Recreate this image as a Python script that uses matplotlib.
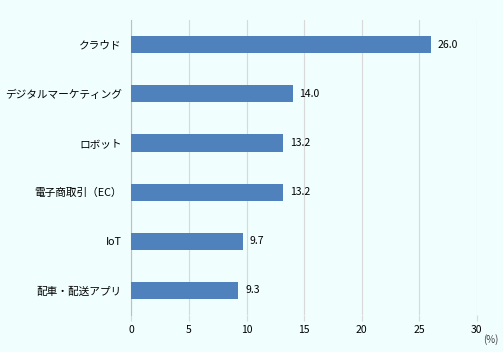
import matplotlib
matplotlib.use("Agg")
import matplotlib.pyplot as plt

plt.rcParams['font.family'] = ['Noto Sans CJK JP', 'DejaVu Sans']

categories = ["クラウド", "デジタルマーケティング", "ロボット", "電子商取引（EC）", "IoT", "配車・配送アプリ"]
values = [26.0, 14.0, 13.2, 13.2, 9.7, 9.3]
xticks = [0, 5, 10, 15, 20, 25, 30]

bg = '#F0FEFE'
fig = plt.figure(figsize=(5.03, 3.52), dpi=100, facecolor=bg)
ax = fig.add_axes([0.2614, 0.105, 0.686, 0.838], facecolor=bg)

ypos = list(range(len(categories)))
ax.barh(ypos, values, height=0.35, color='#4F81BD', zorder=3)
for y, v in zip(ypos, values):
    ax.text(v + 0.6, y, f"{v:.1f}", va='center', ha='left', fontsize=7.5, color='#000000')

ax.set_yticks(ypos)
ax.set_yticklabels(categories, fontsize=7.7)
ax.set_ylim(len(categories) - 0.5, -0.5)
ax.set_xlim(0, 30)
ax.set_xticks(xticks)
ax.set_xticklabels([str(t) for t in xticks], fontsize=7.5)
ax.tick_params(axis='y', length=0, pad=7)
ax.tick_params(axis='x', length=4, color='#d9d9d9', pad=3)
ax.xaxis.grid(True, color='#d9d9d9', linewidth=0.8, zorder=0)
for s in ['top', 'right', 'bottom']:
    ax.spines[s].set_visible(False)
ax.spines['left'].set_color('#bfbfbf')
ax.spines['left'].set_linewidth(0.8)

fig.text(0.96, 0.02, "(%)", fontsize=7, ha='left', va='bottom', color='#404040')

fig.savefig("out.png", dpi=100, facecolor=bg)
